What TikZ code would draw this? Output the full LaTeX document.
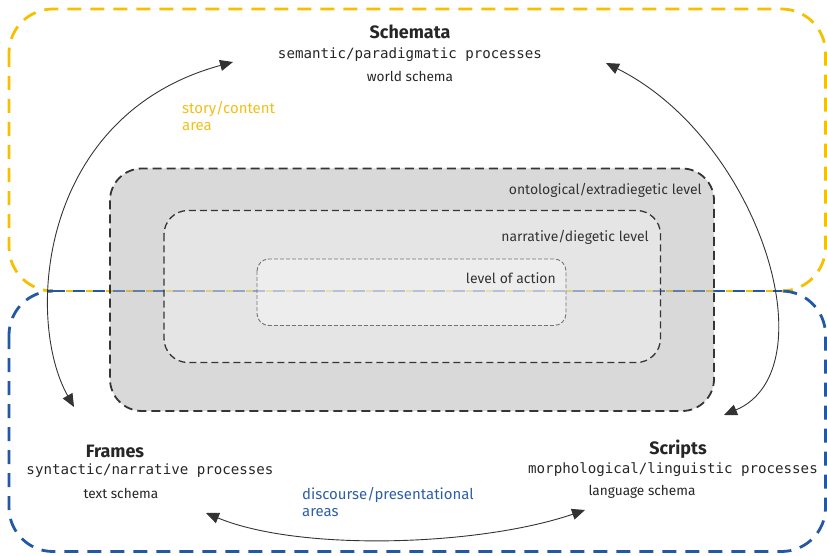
\documentclass[tikz,border=0pt]{standalone}
\usepackage{fontspec}
\setmainfont{Fira Sans}
\setmonofont{DejaVu Sans Mono}
\usetikzlibrary{arrows.meta}
\definecolor{ygold}{HTML}{F5C000}
\definecolor{dblue}{HTML}{2358A5}
\definecolor{ytext}{HTML}{F2BF17}
\definecolor{btext}{HTML}{2F5EA6}
\definecolor{outerfill}{RGB}{171,171,171}
\definecolor{darkline}{HTML}{353535}
\tikzset{
  areabox/.style={line width=2.8bp, dash pattern=on 14bp off 9bp, rounded corners=44bp},
  sharedline/.style={line width=2.8bp},
  outerbox/.style={draw=darkline, line width=1.8bp, dash pattern=on 9bp off 5bp, fill=outerfill, fill opacity=0.45, rounded corners=32bp},
  midbox/.style={draw=darkline, line width=1.3bp, dash pattern=on 7bp off 4bp, fill=white, fill opacity=0.32, rounded corners=24bp},
  innerbox/.style={draw=black!55, line width=0.9bp, dash pattern=on 4bp off 2bp, fill=white, fill opacity=0.31, rounded corners=12bp},
  title/.style={font=\fontsize{18}{20}\selectfont\bfseries, text=black!85, inner sep=0pt},
  mono/.style={font=\fontsize{14.2}{16}\ttfamily, text=black!85, inner sep=0pt},
  sub/.style={font=\fontsize{13.7}{16}\selectfont, text=black!85, inner sep=0pt},
  lvl/.style={font=\fontsize{14}{16}\selectfont, text=black!80, inner sep=0pt, anchor=east},
  arealabel/.style={font=\fontsize{15}{17.5}\selectfont, inner sep=0pt, anchor=north west, align=left},
  conn/.style={draw=black!80, line width=0.9bp, {Triangle[length=13bp,width=11bp]}-{Triangle[length=13bp,width=11bp]}}
}
\begin{document}
\begin{tikzpicture}[x=1bp,y=-1bp]
\useasboundingbox (0,0) rectangle (827,556);
% area boxes
\draw[areabox, draw=ygold] (9,9) rectangle (825.5,291);
\draw[areabox, draw=dblue] (9,291) rectangle (825.5,551.5);
% shared edge: blue and yellow dashes alternating
\coordinate (sl) at (53,291);
\coordinate (sr) at (781.5,291);
\draw[sharedline, draw=white, line width=3.4bp] (sl) -- (sr);
\draw[sharedline, draw=dblue, dash pattern=on 12bp off 8bp] (sl) -- (sr);
\draw[sharedline, draw=ygold, dash pattern=on 7bp off 13bp, dash phase=7.5bp] (sl) -- (sr);
% level boxes
\path[outerbox] (110,168.5) rectangle (714,411);
\path[midbox] (164,210.5) rectangle (660.5,362.5);
\path[innerbox] (257,259) rectangle (566,325.5);
% level labels
\node[lvl] (onto) at (702,190) {ontological/extradiegetic level};
\node[lvl] (narr) at (649,237.5) {narrative/diegetic level};
\node[lvl] (act) at (556,278.5) {level of action};
% Schemata
\node[title] (schemata) at (410,32) {Schemata};
\node[mono] (sem) at (410,54.5) {semantic/paradigmatic processes};
\node[sub] (world) at (410,76) {world schema};
% Frames
\node[title] (frames) at (115,451) {Frames};
\node[mono] (syn) at (150,471) {syntactic/narrative processes};
\node[sub] (text) at (121,493) {text schema};
% Scripts
\node[title] (scripts) at (678,449) {Scripts};
\node[mono] (morph) at (673,470) {morphological/linguistic processes};
\node[sub] (lang) at (642,492) {language schema};
% area labels
\node[arealabel, text=ytext] (story) at (182,101) {story/content\\area};
\node[arealabel, text=btext] (disc) at (302,487) {discourse/presentational\\areas};
% connectors
\coordinate (fr) at (74,407);
\coordinate (sc) at (233,62);
\coordinate (sr2) at (606,63);
\coordinate (kr) at (724,415);
\coordinate (bl) at (206,513);
\coordinate (br) at (585,510);
\draw[conn] (fr) .. controls (25,320) and (38,115) .. (sc);
\draw[conn] (sr2) .. controls (760,140) and (830,370) .. (kr);
\draw[conn] (bl) .. controls (300,552) and (480,546) .. (br);
\end{tikzpicture}
\end{document}
